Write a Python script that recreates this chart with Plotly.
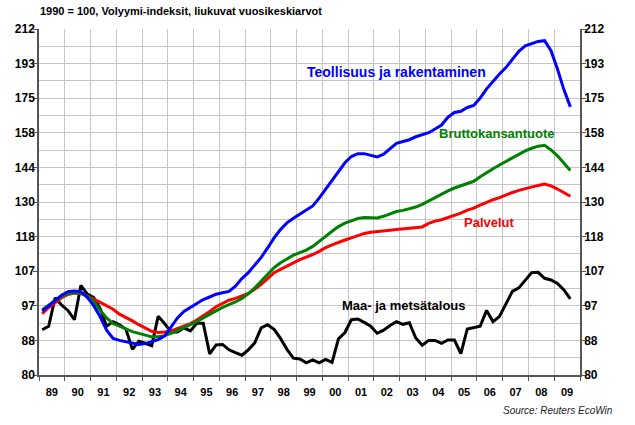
import numpy as np
import plotly.graph_objects as go

# Quarterly observations 1989Q1 .. 2009Q3
quarters = [f"{y}Q{q}" for y in range(1989, 2010) for q in range(1, 5)][:83]

teollisuus = [95.8, 97.2, 98.8, 100.2, 101.2, 101.4, 101.2, 99.6, 97.3, 94.3,
              90.8, 88.7, 88.2, 87.9, 87.6, 87.2, 87.4, 87.9, 88.4, 89.3,
              91.5, 94.0, 95.7, 96.8, 98.0, 99.0, 99.7, 100.5, 100.9, 101.3,
              102.8, 105.0, 106.8, 109.2, 111.5, 114.5, 117.8, 120.6, 122.9, 124.5,
              126.0, 127.2, 128.9, 131.8, 135.2, 138.8, 142.3, 145.6, 148.2, 149.4,
              149.4, 148.8, 148.0, 149.2, 151.5, 153.8, 154.6, 155.4, 156.7, 157.5,
              158.5, 160.2, 162.0, 165.6, 167.8, 168.4, 170.2, 171.2, 174.8, 179.4,
              183.3, 187.1, 190.5, 195.0, 199.4, 202.5, 203.8, 205.1, 205.5, 199.8,
              189.7, 179.0, 170.5]

bkt = [96.2, 97.5, 98.7, 99.8, 100.6, 100.9, 100.8, 100.0, 98.6, 96.0,
       94.0, 92.5, 91.7, 91.1, 90.4, 89.9, 89.5, 89.1, 89.1, 89.4,
       90.0, 90.7, 91.4, 92.2, 93.0, 94.0, 95.0, 96.0, 96.8, 97.6,
       98.3, 99.3, 100.6, 102.3, 104.3, 106.4, 108.3, 109.8, 111.0, 112.2,
       113.0, 113.8, 115.0, 116.5, 118.3, 120.0, 121.6, 122.8, 123.7, 124.4,
       124.8, 124.7, 124.6, 125.2, 126.0, 126.9, 127.3, 127.9, 128.5, 129.5,
       130.8, 132.1, 133.4, 134.5, 135.6, 136.4, 137.2, 138.2, 140.0, 141.7,
       143.2, 144.7, 146.2, 147.8, 149.3, 150.6, 151.7, 152.6, 153.0, 151.0,
       148.5, 145.6, 142.5]

palvelut = [95.1, 96.8, 98.1, 99.5, 100.4, 100.8, 100.7, 100.0, 99.1, 98.2,
            97.2, 96.3, 95.0, 94.2, 93.2, 92.2, 91.3, 90.5, 90.2, 90.3,
            90.6, 91.2, 91.8, 92.5, 93.4, 94.5, 95.7, 97.0, 98.0, 98.8,
            99.3, 99.9, 100.7, 101.9, 103.3, 105.0, 106.8, 107.8, 108.7, 109.8,
            110.8, 111.5, 112.4, 113.4, 114.6, 115.5, 116.4, 117.1, 117.8, 118.5,
            119.3, 119.7, 120.0, 120.2, 120.4, 120.6, 120.8, 121.0, 121.2, 121.5,
            122.7, 123.5, 124.0, 124.8, 125.4, 126.3, 127.4, 128.1, 129.2, 130.3,
            131.2, 132.0, 133.0, 133.9, 134.7, 135.4, 136.0, 136.6, 137.1, 136.4,
            135.2, 134.0, 132.5]

maa_metsa = [90.9, 91.8, 99.5, 97.5, 96.0, 93.5, 103.0, 100.5, 99.5, 96.5,
             91.8, 93.0, 92.2, 91.0, 86.0, 88.0, 87.5, 86.9, 94.4, 92.5,
             90.3, 90.3, 91.4, 90.6, 92.6, 92.6, 84.9, 87.1, 87.2, 85.9,
             85.2, 84.6, 85.9, 87.6, 91.4, 92.2, 91.0, 88.7, 86.0, 83.9,
             83.7, 82.8, 83.5, 82.8, 83.6, 82.9, 88.6, 90.2, 93.5, 93.7,
             92.8, 91.8, 90.0, 90.8, 92.0, 93.0, 92.3, 92.7, 88.8, 87.0,
             88.2, 88.2, 87.5, 88.3, 88.3, 85.0, 91.1, 91.4, 91.8, 96.0,
             93.0, 94.4, 98.0, 101.3, 102.3, 104.4, 106.8, 106.9, 105.1, 104.6,
             103.6, 101.7, 99.2]

year_labels = ["89", "90", "91", "92", "93", "94", "95", "96", "97", "98", "99",
               "00", "01", "02", "03", "04", "05", "06", "07", "08", "09"]
y_tick_labels = ["80", "88", "97", "107", "118", "130", "144", "158", "175", "193", "212"]

FONT = "Liberation Sans, Arial, sans-serif"
GRID = "#c6c6c6"
AXIS = "#555555"

def qpos(s):
    return int(s[:4]) + (int(s[-1]) - 0.5) / 4

x = [qpos(s) for s in quarters]

y_min, y_max = 80.0, 212.4
n_int = len(y_tick_labels) - 1
ratio = (y_max / y_min) ** (1.0 / n_int)
y_tickvals = [y_min * ratio ** k for k in range(n_int + 1)]
y_minorvals = [y_min * ratio ** (k + 0.5) for k in range(n_int)]
y_range = [np.log10(y_min), np.log10(y_max)]

first_year = 1989
year_bounds = list(range(first_year, first_year + len(year_labels) + 1))
year_mid = [y + 0.5 for y in year_bounds[:-1]]

fig = go.Figure()
series = [
    (maa_metsa, "#000000", "Maa- ja metsätalous"),
    (palvelut, "#ff0000", "Palvelut"),
    (bkt, "#008000", "Bruttokansantuote"),
    (teollisuus, "#0000ff", "Teollisuus ja rakentaminen"),
]
for vals, col, name in series:
    fig.add_trace(go.Scatter(x=x, y=vals, mode="lines", name=name,
                             line=dict(color=col, width=3), showlegend=False))
# invisible trace to anchor the right-hand axis
fig.add_trace(go.Scatter(x=x, y=bkt, yaxis="y2", mode="lines",
                         line=dict(width=0), hoverinfo="skip", showlegend=False,
                         opacity=0))

tickfont = dict(family=FONT, size=12, color="#000000", weight="bold")
yaxis_common = dict(
    type="log", range=y_range, tickmode="array", tickvals=y_tickvals,
    ticktext=y_tick_labels, tickfont=tickfont, ticks="outside", ticklen=4,
    tickcolor=AXIS, showline=True, linecolor=AXIS, linewidth=1.5,
    zeroline=False, ticklabelstandoff=-4,
)
fig.update_layout(
    width=635, height=425,
    margin=dict(l=39, r=55, t=29, b=50),
    paper_bgcolor="white", plot_bgcolor="white",
    font=dict(family=FONT),
    xaxis=dict(
        range=[year_bounds[0], year_bounds[-1]], tickmode="array",
        tickvals=year_mid, ticktext=year_labels, ticks="", showgrid=False,
        ticklabelstandoff=6,
        tickfont=dict(family=FONT, size=11, color="#000000", weight="bold"),
        showline=True, linecolor=AXIS, linewidth=1.5, zeroline=False,
        minor=dict(tickmode="array", tickvals=year_bounds, ticks="outside",
                   ticklen=4, tickcolor=AXIS, showgrid=True, gridcolor=GRID,
                   gridwidth=1),
    ),
    yaxis=dict(**yaxis_common, side="left", showgrid=True, gridcolor=GRID,
               gridwidth=1,
               minor=dict(tickmode="array", tickvals=y_minorvals, ticks="",
                          showgrid=True, gridcolor=GRID, gridwidth=1)),
    yaxis2=dict(**yaxis_common, side="right", overlaying="y", showgrid=False),
    title=dict(text="<b>1990 = 100, Volyymi-indeksit, liukuvat vuosikeskiarvot</b>",
               font=dict(family=FONT, size=11, color="#000000"),
               x=40 / 635, xanchor="left", xref="container",
               y=1 - 11 / 425, yanchor="middle"),
)

def paper_x(px):
    return (px - 39) / 541

def paper_y(py):
    return (375 - py) / 346

labels = [
    ("Teollisuus ja rakentaminen", "#0000ff", 305, 72, 14),
    ("Bruttokansantuote", "#008000", 437, 133, 13),
    ("Palvelut", "#ff0000", 462, 222, 13),
    ("Maa- ja metsätalous", "#000000", 340, 305, 13),
]
for text, col, px, py, fs in labels:
    fig.add_annotation(text=f"<b>{text}</b>", xref="paper", yref="paper",
                       x=paper_x(px), y=paper_y(py), xanchor="left",
                       yanchor="middle", showarrow=False,
                       font=dict(family=FONT, size=fs, color=col))

fig.add_annotation(text="<i>Source: Reuters EcoWin</i>", xref="paper", yref="paper",
                   x=paper_x(615), y=paper_y(410), xanchor="right", yanchor="middle",
                   showarrow=False, font=dict(family=FONT, size=10, color="#222222"))

fig.write_html("out.html", config={"displayModeBar": False},
               post_script="document.body.style.margin='0';")
